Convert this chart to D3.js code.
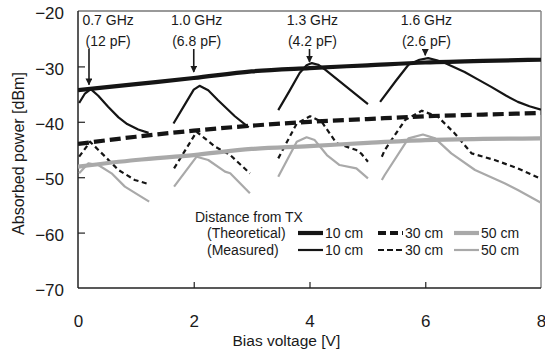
<!DOCTYPE html>
<html>
<head>
<meta charset="utf-8">
<script src="https://cdn.jsdelivr.net/npm/d3@7"></script>
<style>
  body { margin: 0; background: #fff; }
  text { font-family: "Liberation Sans", Arial, sans-serif; fill: #1a1a1a; }
</style>
</head>
<body>
<div id="chart"></div>
<script>
// axes
const voltageTicks = [0, 2, 4, 6, 8];
const powerTicks = [-70, -60, -50, -40, -30, -20];

// theoretical curves, sampled every 1 V
const theoryV = [0, 1, 2, 3, 4, 5, 6, 7, 8];
const theory10 = [-34.3, -33.2, -32.1, -30.9, -30.3, -29.8, -29.3, -29.0, -28.8];
const theory30 = [-44.0, -42.7, -41.6, -40.7, -40.0, -39.5, -39.0, -38.7, -38.4];
const theory50 = [-48.1, -46.9, -46.0, -44.9, -44.4, -43.8, -43.3, -43.1, -43.0];

// measured curves: one segment per frequency, [bias V, dBm]
const meas10 = [
  [[0.02, -36.6], [0.12, -34.9], [0.22, -34.1], [0.35, -35.3], [0.52, -37.3], [0.7, -39.2], [0.85, -40.4], [1.04, -41.4], [1.22, -42.0]],
  [[1.65, -40.3], [1.85, -36.8], [2.0, -34.2], [2.1, -33.5], [2.25, -34.3], [2.42, -36.1], [2.71, -39.0], [2.95, -41.0]],
  [[3.46, -37.9], [3.65, -34.5], [3.83, -31.2], [3.95, -29.8], [4.04, -29.4], [4.15, -29.7], [4.27, -30.6], [4.64, -33.7], [5.01, -36.8]],
  [[5.22, -36.4], [5.5, -32.5], [5.71, -29.7], [5.9, -28.8], [6.05, -28.5], [6.2, -28.9], [6.34, -29.4], [6.68, -31.0], [6.9, -32.3], [7.14, -33.7], [7.4, -35.3], [7.6, -36.4], [7.8, -37.2], [8.0, -37.8]]
];
const meas30 = [
  [[0.02, -46.3], [0.21, -43.6], [0.47, -46.3], [0.7, -48.7], [0.98, -50.5], [1.21, -51.2]],
  [[1.66, -48.4], [2.05, -41.8], [2.37, -44.5], [2.63, -46.0], [2.97, -49.3]],
  [[3.46, -46.6], [3.78, -40.3], [4.01, -39.0], [4.21, -40.0], [4.47, -43.9], [4.81, -45.1], [4.9, -45.8], [5.01, -47.2]],
  [[5.25, -46.3], [5.3, -45.1], [5.65, -39.7], [5.94, -38.0], [6.22, -39.1], [6.51, -42.1], [6.8, -45.7], [7.2, -46.9], [7.6, -48.4], [7.98, -50.2]]
];
const meas50 = [
  [[0.02, -49.3], [0.18, -47.5], [0.35, -47.8], [0.58, -49.3], [0.81, -51.7], [1.04, -53.2], [1.23, -54.4]],
  [[1.66, -51.7], [2.05, -46.3], [2.25, -46.9], [2.54, -49.0], [2.63, -49.3], [2.97, -52.9]],
  [[3.46, -49.9], [3.78, -43.6], [3.95, -42.8], [4.09, -43.3], [4.3, -46.0], [4.52, -47.8], [4.81, -48.4], [5.01, -50.2]],
  [[5.25, -50.5], [5.3, -49.6], [5.71, -43.0], [5.96, -42.3], [6.17, -43.0], [6.45, -45.7], [6.86, -48.7], [7.37, -51.1], [7.6, -52.3], [8.0, -54.6]]
];

// resonance annotations
const freqLabels = ['0.7 GHz', '1.0 GHz', '1.3 GHz', '1.6 GHz'];
const capLabels = ['(12 pF)', '(6.8 pF)', '(4.2 pF)', '(2.6 pF)'];
const labelV = [0.52, 2.05, 4.05, 6.02];
const arrowV = [0.19, 2.0, 4.0, 6.0];
const arrowTip = [-33.3, -31.0, -29.2, -28.0];

const distances = ['10 cm', '30 cm', '50 cm'];

const W = 545, H = 357;
const margin = {top: 11, right: 4, bottom: 69, left: 78};
const width = W - margin.left - margin.right;
const height = H - margin.top - margin.bottom;

const svg = d3.select('#chart').append('svg')
  .attr('width', W)
  .attr('height', H);

svg.append('defs').append('marker')
  .attr('id', 'arrow')
  .attr('viewBox', '0 0 10 10')
  .attr('refX', 9).attr('refY', 5)
  .attr('markerWidth', 7).attr('markerHeight', 7)
  .attr('markerUnits', 'userSpaceOnUse')
  .attr('orient', 'auto')
  .append('path')
  .attr('d', 'M0,0 L10,5 L0,10 z')
  .attr('fill', '#1a1a1a');

const g = svg.append('g').attr('transform', `translate(${margin.left},${margin.top})`);

const x = d3.scaleLinear().domain([0, 8]).range([0, width]);
const y = d3.scaleLinear().domain([-70, -20]).range([height, 0]);

g.append('defs').append('clipPath').attr('id', 'clip')
  .append('rect').attr('width', width).attr('height', height);

// axes with inward ticks
const xAxis = g.append('g')
  .attr('transform', `translate(0,${height})`)
  .call(d3.axisBottom(x).tickValues(voltageTicks).tickSize(-6).tickPadding(27).tickFormat(d3.format('d')));
const yAxis = g.append('g')
  .call(d3.axisLeft(y).tickValues(powerTicks).tickSize(-7).tickPadding(14).tickFormat(d3.format('d')));

[xAxis, yAxis].forEach(ax => {
  ax.select('.domain').remove();
  ax.selectAll('line').attr('stroke', '#333').attr('stroke-width', 1.3);
  ax.selectAll('text').style('font-size', '17px').attr('fill', '#1a1a1a');
});
// hide ticks that sit on the frame corners
xAxis.selectAll('.tick').filter(d => d === 0 || d === 8).select('line').remove();
yAxis.selectAll('.tick').filter(d => d === -70 || d === -20).select('line').remove();
yAxis.selectAll('.tick text').attr('dy', '0.45em');

// frame
g.append('line').attr('x1', 0).attr('x2', width).attr('y1', 0).attr('y2', 0)
  .attr('stroke', '#777').attr('stroke-width', 1.3);
g.append('line').attr('x1', width).attr('x2', width).attr('y1', 0).attr('y2', height)
  .attr('stroke', '#888').attr('stroke-width', 1.5);
g.append('line').attr('x1', 0).attr('x2', 0).attr('y1', 0).attr('y2', height)
  .attr('stroke', '#222').attr('stroke-width', 1.5);
g.append('line').attr('x1', 0).attr('x2', width).attr('y1', height).attr('y2', height)
  .attr('stroke', '#222').attr('stroke-width', 1.5);

const plot = g.append('g').attr('clip-path', 'url(#clip)');

const styles = [
  {color: '#151515', dashT: null, dashM: null},
  {color: '#151515', dashT: '11,5', dashM: '5,3.5'},
  {color: '#a9a9a9', dashT: null, dashM: null}
];

const smooth = d3.line().x(d => x(d[0])).y(d => y(d[1])).curve(d3.curveMonotoneX);
const poly = d3.line().x(d => x(d[0])).y(d => y(d[1]));

// measured (thin) first, theoretical (thick) on top
[meas50, meas30, meas10].forEach((series, i) => {
  const st = styles[2 - i];
  series.forEach(seg => {
    plot.append('path')
      .attr('d', poly(seg))
      .attr('fill', 'none')
      .attr('stroke', st.color)
      .attr('stroke-width', 2.2)
      .attr('stroke-linejoin', 'round')
      .attr('stroke-dasharray', st.dashM);
  });
});

[theory50, theory30, theory10].forEach((vals, i) => {
  const st = styles[2 - i];
  plot.append('path')
    .attr('d', smooth(theoryV.map((v, k) => [v, vals[k]])))
    .attr('fill', 'none')
    .attr('stroke', st.color)
    .attr('stroke-width', 4.2)
    .attr('stroke-dasharray', st.dashT);
});

// annotations
freqLabels.forEach((lab, i) => {
  g.append('text').attr('x', x(labelV[i])).attr('y', 14)
    .attr('text-anchor', 'middle').style('font-size', '14px').text(lab);
  g.append('text').attr('x', x(labelV[i])).attr('y', 35)
    .attr('text-anchor', 'middle').style('font-size', '14px').text(capLabels[i]);
  g.append('line')
    .attr('x1', x(arrowV[i])).attr('x2', x(arrowV[i]))
    .attr('y1', 38).attr('y2', y(arrowTip[i]))
    .attr('stroke', '#1a1a1a').attr('stroke-width', 1.6)
    .attr('marker-end', 'url(#arrow)');
});

// legend
const leg = svg.append('g');
leg.append('text').attr('x', 195).attr('y', 222).style('font-size', '14px').text('Distance from TX');
leg.append('text').attr('x', 207).attr('y', 238).style('font-size', '14px').text('(Theoretical)');
leg.append('text').attr('x', 207).attr('y', 255).style('font-size', '14px').text('(Measured)');
const legX = [298, 378, 454];
distances.forEach((d, i) => {
  const st = styles[i];
  leg.append('line').attr('x1', legX[i]).attr('x2', legX[i] + 25).attr('y1', 233).attr('y2', 233)
    .attr('stroke', st.color).attr('stroke-width', 4.2).attr('stroke-dasharray', st.dashT ? '8,4' : null);
  leg.append('line').attr('x1', legX[i]).attr('x2', legX[i] + 25).attr('y1', 250).attr('y2', 250)
    .attr('stroke', st.color).attr('stroke-width', 2.2).attr('stroke-dasharray', st.dashM ? '6,3' : null);
  leg.append('text').attr('x', legX[i] + 27).attr('y', 238).style('font-size', '14px').text(d);
  leg.append('text').attr('x', legX[i] + 27).attr('y', 255).style('font-size', '14px').text(d);
});

// axis titles
svg.append('text')
  .attr('x', margin.left + x(3.6)).attr('y', 346)
  .attr('text-anchor', 'middle').style('font-size', '15.5px')
  .text('Bias voltage [V]');
svg.append('text')
  .attr('transform', `translate(24,${margin.top + height / 2 + 4}) rotate(-90)`)
  .attr('text-anchor', 'middle').style('font-size', '16px')
  .text('Absorbed power [dBm]');
</script>
</body>
</html>
